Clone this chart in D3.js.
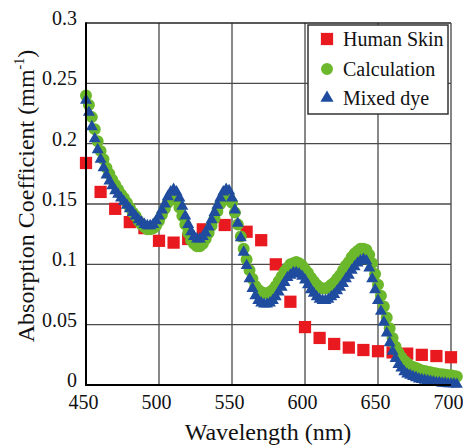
<!DOCTYPE html>
<html>
<head>
<meta charset="utf-8">
<script src="https://cdn.jsdelivr.net/npm/d3@7/dist/d3.min.js"></script>
</head>
<body style="margin:0;background:#fff">
<svg id="chart" width="463" height="445" style="display:block"></svg>
<script>
// ---- data ----
const seriesNames = ["Human Skin", "Calculation", "Mixed dye"];
const xTicks = [450, 500, 550, 600, 650, 700];
const yTicks = [0, 0.05, 0.1, 0.15, 0.2, 0.25, 0.3];
const yTickLabels = ["0", "0.05", "0.1", "0.15", "0.2", "0.25", "0.3"];

const skinWavelength = [450, 460, 470, 480, 490, 500, 510, 520, 530, 545, 560, 570, 580, 590, 600, 610, 620, 630, 640, 650, 660, 670, 680, 690, 700];
const skinValues = [0.184, 0.160, 0.146, 0.135, 0.130, 0.1195, 0.118, 0.121, 0.129, 0.1326, 0.127, 0.120, 0.100, 0.069, 0.048, 0.039, 0.034, 0.031, 0.029, 0.028, 0.027, 0.026, 0.025, 0.024, 0.023];

// dense spectra, 450..704 nm every 2 nm
const denseWavelength = d3.range(450, 705, 2);
const calcValues = [
  0.240, 0.232, 0.222, 0.212, 0.202, 0.194, 0.187, 0.180, 0.175, 0.170,
  0.166, 0.162, 0.158, 0.155, 0.151, 0.147, 0.143, 0.140, 0.136, 0.133,
  0.131, 0.129, 0.129, 0.130, 0.132, 0.136, 0.141, 0.146, 0.151, 0.155,
  0.156, 0.153, 0.147, 0.140, 0.133, 0.126, 0.120, 0.117, 0.115, 0.115,
  0.117, 0.121, 0.126, 0.132, 0.138, 0.144, 0.150, 0.154, 0.157, 0.156,
  0.151, 0.143, 0.133, 0.123, 0.113, 0.104, 0.095, 0.088, 0.082, 0.079,
  0.077, 0.076, 0.076, 0.077, 0.079, 0.082, 0.086, 0.090, 0.094, 0.097,
  0.100, 0.101, 0.102, 0.101, 0.099, 0.096, 0.093, 0.089, 0.086, 0.083,
  0.081, 0.080, 0.080, 0.081, 0.083, 0.085, 0.088, 0.091, 0.095, 0.099,
  0.102, 0.106, 0.109, 0.111, 0.113, 0.113, 0.112, 0.108, 0.101, 0.092,
  0.083, 0.074, 0.065, 0.056, 0.047, 0.039, 0.032, 0.027, 0.023, 0.020,
  0.018, 0.016, 0.015, 0.014, 0.013, 0.012, 0.0115, 0.011, 0.0105, 0.010,
  0.0095, 0.009, 0.009, 0.0085, 0.008, 0.008, 0.0075, 0.007
];
const dyeValues = [
  0.236, 0.226, 0.214, 0.204, 0.195, 0.187, 0.180, 0.174, 0.169, 0.165,
  0.161, 0.158, 0.155, 0.152, 0.149, 0.146, 0.143, 0.140, 0.137, 0.135,
  0.133, 0.132, 0.132, 0.133, 0.136, 0.140, 0.145, 0.150, 0.156, 0.160,
  0.162, 0.160, 0.155, 0.148, 0.140, 0.133, 0.127, 0.123, 0.121, 0.121,
  0.123, 0.126, 0.131, 0.137, 0.143, 0.149, 0.155, 0.160, 0.162, 0.161,
  0.155, 0.145, 0.134, 0.122, 0.110, 0.099, 0.088, 0.080, 0.074, 0.070,
  0.068, 0.067, 0.067, 0.068, 0.070, 0.073, 0.077, 0.081, 0.085, 0.089,
  0.091, 0.093, 0.093, 0.092, 0.090, 0.087, 0.083, 0.079, 0.076, 0.073,
  0.071, 0.070, 0.070, 0.071, 0.073, 0.075, 0.078, 0.081, 0.084, 0.088,
  0.091, 0.095, 0.098, 0.101, 0.103, 0.104, 0.103, 0.097, 0.088, 0.079,
  0.070, 0.061, 0.052, 0.043, 0.035, 0.028, 0.022, 0.017, 0.014, 0.011,
  0.009, 0.008, 0.007, 0.006, 0.005, 0.0045, 0.004, 0.0035, 0.003, 0.0025,
  0.002, 0.002, 0.0015, 0.0015, 0.001, 0.001, 0.001, 0.0005
];

const colors = { skin: "#e8191f", calc: "#6cb82c", dye: "#1f4c9e" };

// ---- layout ----
const svg = d3.select("#chart");
const plotL = 86, plotR = 451, plotT = 23, plotB = 385;
const x = d3.scaleLinear().domain([450, 700]).range([plotL, plotR]);
const y = d3.scaleLinear().domain([0, 0.3]).range([plotB, plotT]);

function serifText(sel, size) {
  return sel.attr("style", `font-family: "Liberation Serif", "DejaVu Serif", serif !important; font-size: ${size}px;`)
    .attr("fill", "#111");
}

// gridlines
const grid = svg.append("g");
grid.selectAll("line.v").data(xTicks.slice(1, -1)).enter().append("line")
  .attr("x1", d => x(d)).attr("x2", d => x(d)).attr("y1", plotT).attr("y2", plotB)
  .attr("stroke", "#4a4a4a").attr("stroke-width", 1.3);
grid.selectAll("line.h").data(yTicks.slice(1, -1)).enter().append("line")
  .attr("x1", plotL).attr("x2", plotR).attr("y1", d => y(d)).attr("y2", d => y(d))
  .attr("stroke", "#4a4a4a").attr("stroke-width", 1.3);
// frame
svg.append("line").attr("x1", plotL).attr("x2", plotR).attr("y1", plotT).attr("y2", plotT)
  .attr("stroke", "#222").attr("stroke-width", 1.5);
svg.append("line").attr("x1", plotR).attr("x2", plotR).attr("y1", plotT).attr("y2", plotB)
  .attr("stroke", "#444").attr("stroke-width", 1.3);

// axes (labels via d3 axis)
const xAxis = d3.axisBottom(x).tickValues(xTicks).tickSize(0).tickPadding(0).tickFormat(d3.format("d"));
const gx = svg.append("g").attr("transform", `translate(0,${plotB})`).call(xAxis)
  .attr("font-family", null).attr("font-size", null);
gx.select(".domain").remove();
serifText(gx.selectAll("text"), 20).attr("dy", 0).attr("y", 24).attr("dx", -3);

const yAxis = d3.axisLeft(y).tickValues(yTicks).tickSize(0).tickPadding(0)
  .tickFormat((d, i) => yTickLabels[i]);
const gy = svg.append("g").attr("transform", `translate(${plotL},0)`).call(yAxis)
  .attr("font-family", null).attr("font-size", null);
gy.select(".domain").remove();
serifText(gy.selectAll("text"), 20).attr("x", -9).attr("dy", "0.32em")
  .attr("transform", "translate(0,-5)");

// series
const skinData = skinWavelength.map((w, i) => ({ w, v: skinValues[i] }));
const calcData = denseWavelength.map((w, i) => ({ w, v: calcValues[i] }));
const dyeData = denseWavelength.map((w, i) => ({ w, v: dyeValues[i] }));

const sq = d3.symbol(d3.symbolSquare, 150);
const ci = d3.symbol(d3.symbolCircle, 113);
const tri = d3.symbol(d3.symbolTriangle, 62);

svg.append("g").selectAll("path").data(skinData).enter().append("path")
  .attr("d", sq).attr("transform", d => `translate(${x(d.w)},${y(d.v)})`).attr("fill", colors.skin);
svg.append("g").selectAll("path").data(calcData).enter().append("path")
  .attr("d", ci).attr("transform", d => `translate(${x(d.w)},${y(d.v)})`).attr("fill", colors.calc);
svg.append("g").selectAll("path").data(dyeData).enter().append("path")
  .attr("d", tri).attr("transform", d => `translate(${x(d.w)},${y(d.v)})`).attr("fill", colors.dye);

// left & bottom axis lines
svg.append("line").attr("x1", plotL).attr("x2", plotL).attr("y1", plotT - 0.75).attr("y2", plotB + 1)
  .attr("stroke", "#000").attr("stroke-width", 2);
svg.append("line").attr("x1", plotL - 1).attr("x2", plotR).attr("y1", plotB).attr("y2", plotB)
  .attr("stroke", "#000").attr("stroke-width", 2);

// axis titles
serifText(svg.append("text"), 24)
  .attr("x", 268).attr("y", 440).attr("text-anchor", "middle")
  .text("Wavelength (nm)");
const yt = serifText(svg.append("text"), 24)
  .attr("transform", "translate(34,196) rotate(-90)")
  .attr("text-anchor", "middle");
yt.append("tspan").text("Absorption Coefficient (mm");
yt.append("tspan").attr("style", "font-size:14px").attr("dy", -10).text("-1");
yt.append("tspan").attr("dy", 10).text(")");

// legend
const lg = svg.append("g");
lg.append("rect").attr("x", 308).attr("y", 25).attr("width", 140).attr("height", 89)
  .attr("fill", "#fff").attr("stroke", "#333").attr("stroke-width", 1.5);
const legendItems = [
  { name: seriesNames[0], sym: sq, color: colors.skin, cy: 39 },
  { name: seriesNames[1], sym: ci, color: colors.calc, cy: 69 },
  { name: seriesNames[2], sym: d3.symbol(d3.symbolTriangle, 75), color: colors.dye, cy: 98 }
];
const li = lg.selectAll("g.item").data(legendItems).enter().append("g");
li.append("path").attr("d", d => d.sym()).attr("transform", d => `translate(327,${d.cy})`)
  .attr("fill", d => d.color);
serifText(li.append("text"), 20)
  .attr("x", 343).attr("y", d => d.cy + 7).text(d => d.name);
</script>
</body>
</html>
